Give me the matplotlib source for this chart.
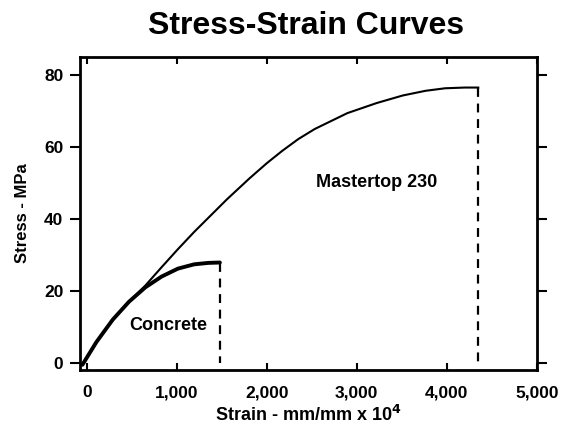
import matplotlib

matplotlib.use("Agg")
import matplotlib.pyplot as plt

plt.rcParams["font.family"] = ["Liberation Sans", "DejaVu Sans"]
plt.rcParams["font.weight"] = "bold"
plt.rcParams["mathtext.default"] = "bf"

# --- data ------------------------------------------------------------------
concrete_strain = [-50, 105, 286, 467, 649, 830, 1011, 1192, 1350, 1478]
concrete_stress = [-0.5, 5.8, 12.0, 17.0, 21.0, 24.0, 26.2, 27.4, 27.8, 27.9]

master_strain = [-50, 105, 286, 467, 649, 830, 1011, 1192, 1373, 1554, 1808,
                 2000, 2170, 2350, 2533, 2895, 3221, 3511, 3764, 3982, 4200, 4350]
master_stress = [-0.5, 5.8, 12.0, 17.0, 21.5, 26.6, 31.6, 36.4, 40.9, 45.4, 51.3,
                 55.5, 58.9, 62.2, 65.0, 69.4, 72.2, 74.3, 75.6, 76.3, 76.5, 76.5]

xticks = [0, 1000, 2000, 3000, 4000, 5000]
xticklabels = ["0", "1,000", "2,000", "3,000", "4,000", "5,000"]
yticks = [0, 20, 40, 60, 80]

fig = plt.figure(figsize=(5.68, 4.25), dpi=100)
ax = fig.add_axes([0.141, 0.129, 0.804, 0.737])

ax.plot(concrete_strain, concrete_stress, color="black", lw=2.8,
        solid_capstyle="round", solid_joinstyle="round")
ax.plot(master_strain, master_stress, color="black", lw=1.5, solid_joinstyle="round")
ax.plot([concrete_strain[-1]] * 2, [concrete_stress[-1], 0], color="black", lw=1.6,
        ls=(0, (4, 3)))
ax.plot([master_strain[-1]] * 2, [master_stress[-1], 0], color="black", lw=1.6,
        ls=(0, (4, 3)))

ax.text(900, 10.5, "Concrete", ha="center", va="center", fontsize=13, fontweight="bold")
ax.text(3217, 50, "Mastertop 230", ha="center", va="center", fontsize=13,
        fontweight="bold")

ax.set_xlim(-76, 4900)
ax.set_ylim(-2, 85)
ax.set_xticks(xticks)
ax.set_xticklabels(xticklabels)
ax.set_yticks(yticks)

for s in ax.spines.values():
    s.set_linewidth(2)
ax.tick_params(axis="x", direction="in", length=5, width=1.5, labelsize=12.5, pad=11,
               top=True)
ax.tick_params(axis="y", direction="out", length=7, width=1.5, labelsize=12.5, pad=5,
               right=True)
for lbl in ax.get_xticklabels() + ax.get_yticklabels():
    lbl.set_fontweight("bold")

ax.set_xlabel("Strain - mm/mm x 10$^{4}$", fontsize=13, fontweight="bold", labelpad=3)
ax.set_ylabel("Stress - MPa", fontsize=12, fontweight="bold", labelpad=10)
fig.text(0.539, 0.938, "Stress-Strain Curves", ha="center", va="center",
         fontsize=23, fontweight="bold")

fig.savefig("out.png", dpi=100)
